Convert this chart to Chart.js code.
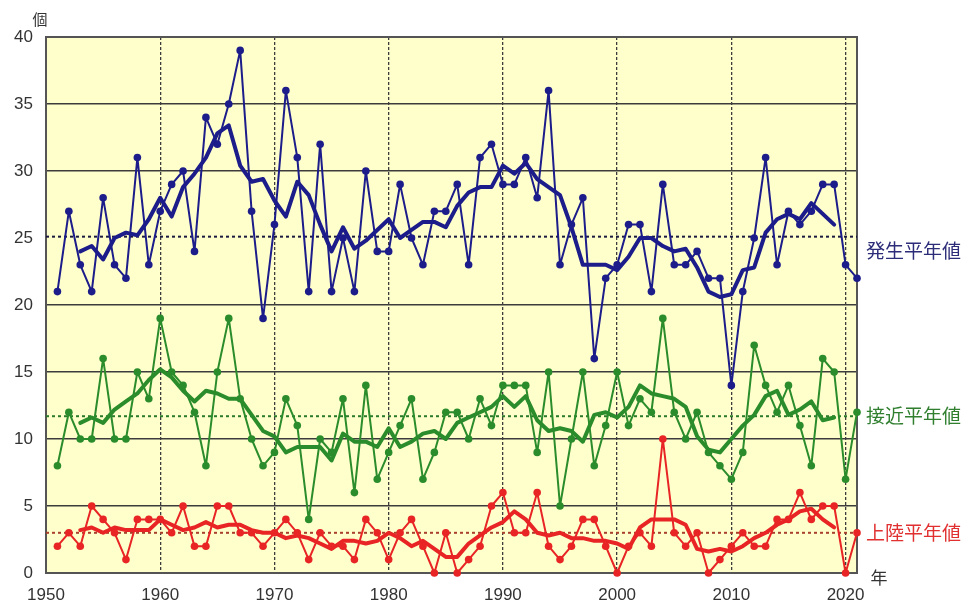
<!DOCTYPE html>
<html>
<head>
<meta charset="utf-8">
<script src="https://cdn.jsdelivr.net/npm/chart.js@4.4.0/dist/chart.umd.min.js"></script>
<style>
  html, body { margin: 0; background: #fff; }
</style>
</head>
<body>
<canvas id="typhoon-chart" width="970" height="600"></canvas>
<script>
// ── data (typhoon counts per year) ──────────────────────────────────────────
const YEARS = [
  1951, 1952, 1953, 1954, 1955, 1956, 1957, 1958, 1959, 1960,
  1961, 1962, 1963, 1964, 1965, 1966, 1967, 1968, 1969, 1970,
  1971, 1972, 1973, 1974, 1975, 1976, 1977, 1978, 1979, 1980,
  1981, 1982, 1983, 1984, 1985, 1986, 1987, 1988, 1989, 1990,
  1991, 1992, 1993, 1994, 1995, 1996, 1997, 1998, 1999, 2000,
  2001, 2002, 2003, 2004, 2005, 2006, 2007, 2008, 2009, 2010,
  2011, 2012, 2013, 2014, 2015, 2016, 2017, 2018, 2019, 2020,
  2021,
];

const GENESIS = [
  21, 27, 23, 21, 28, 23, 22, 31, 23, 27,
  29, 30, 24, 34, 32, 35, 39, 27, 19, 26,
  36, 31, 21, 32, 21, 25, 21, 30, 24, 24,
  29, 25, 23, 27, 27, 29, 23, 31, 32, 29,
  29, 31, 28, 36, 23, 26, 28, 16, 22, 23,
  26, 26, 21, 29, 23, 23, 24, 22, 22, 14,
  21, 25, 31, 23, 27, 26, 27, 29, 29, 23,
  22,
];

const APPROACH = [
  8, 12, 10, 10, 16, 10, 10, 15, 13, 19,
  15, 14, 12, 8, 15, 19, 13, 10, 8, 9,
  13, 11, 4, 10, 9, 13, 6, 14, 7, 9,
  11, 13, 7, 9, 12, 12, 10, 13, 11, 14,
  14, 14, 9, 15, 5, 10, 15, 8, 11, 15,
  11, 13, 12, 19, 12, 10, 12, 9, 8, 7,
  9, 17, 14, 12, 14, 11, 8, 16, 15, 7,
  12,
];

const LANDFALL = [
  2, 3, 2, 5, 4, 3, 1, 4, 4, 4,
  3, 5, 2, 2, 5, 5, 3, 3, 2, 3,
  4, 3, 1, 3, 2, 2, 1, 4, 3, 1,
  3, 4, 2, 0, 3, 0, 1, 2, 5, 6,
  3, 3, 6, 2, 1, 2, 4, 4, 2, 0,
  2, 3, 2, 10, 3, 2, 3, 0, 1, 2,
  3, 2, 2, 4, 4, 6, 4, 5, 5, 0,
  3,
];

// 5-year running means, 1953–2019
const MEAN_YEARS = YEARS.slice(2, 69);

const GENESIS_MEAN = [
  24.0, 24.4, 23.4, 25.0, 25.4, 25.2, 26.4, 28.0, 26.6, 28.8,
  29.8, 31.0, 32.8, 33.4, 30.4, 29.2, 29.4, 27.8, 26.6, 29.2,
  28.2, 26.0, 24.0, 25.8, 24.2, 24.8, 25.6, 26.4, 25.0, 25.6,
  26.2, 26.2, 25.8, 27.4, 28.4, 28.8, 28.8, 30.4, 29.8, 30.6,
  29.4, 28.8, 28.2, 25.8, 23.0, 23.0, 23.0, 22.6, 23.6, 25.0,
  25.0, 24.4, 24.0, 24.2, 22.8, 21.0, 20.6, 20.8, 22.6, 22.8,
  25.4, 26.4, 26.8, 26.4, 27.6, 26.8, 26.0,
];

const APPROACH_MEAN = [
  11.2, 11.6, 11.2, 12.2, 12.8, 13.4, 14.4, 15.2, 14.6, 13.6,
  12.8, 13.6, 13.4, 13.0, 13.0, 11.8, 10.6, 10.2, 9.0, 9.4,
  9.4, 9.4, 8.4, 10.4, 9.8, 9.8, 9.4, 10.8, 9.4, 9.8,
  10.4, 10.6, 10.0, 11.2, 11.6, 12.0, 12.4, 13.2, 12.4, 13.2,
  11.4, 10.6, 10.8, 10.6, 9.8, 11.8, 12.0, 11.6, 12.4, 14.0,
  13.4, 13.2, 13.0, 12.4, 10.2, 9.2, 9.0, 10.0, 11.0, 11.8,
  13.2, 13.6, 11.8, 12.2, 12.8, 11.4, 11.6,
];

const LANDFALL_MEAN = [
  3.2, 3.4, 3.0, 3.4, 3.2, 3.2, 3.2, 4.0, 3.6, 3.2,
  3.4, 3.8, 3.4, 3.6, 3.6, 3.2, 3.0, 3.0, 2.6, 2.8,
  2.6, 2.2, 1.8, 2.4, 2.4, 2.2, 2.4, 3.0, 2.6, 2.0,
  2.4, 1.8, 1.2, 1.2, 2.2, 2.8, 3.4, 3.8, 4.6, 4.0,
  3.0, 2.8, 3.0, 2.6, 2.6, 2.4, 2.4, 2.2, 1.8, 3.4,
  4.0, 4.0, 4.0, 3.6, 1.8, 1.6, 1.8, 1.6, 2.0, 2.6,
  3.0, 3.6, 4.0, 4.6, 4.8, 4.0, 3.4,
];

// normals (平年値)
const GENESIS_NORMAL = 25.1;
const APPROACH_NORMAL = 11.7;
const LANDFALL_NORMAL = 3.0;
const NORMAL_LABELS = ["発生平年値", "接近平年値", "上陸平年値"];

const X_TICKS = [1950, 1960, 1970, 1980, 1990, 2000, 2010, 2020];
const X_MIN = 1950;
const X_MAX = 2021;
const Y_MAX = 40;

const COLOURS = {
  genesis:   "#1c1c8a",
  approach:  "#2b8c2b",
  landfall:  "#e82424",
  genNorm:   "#1a1a40",
  appNorm:   "#2a7a2a",
  landNorm:  "#a8402c",
  genText:   "#2c2c78",
  appText:   "#2f7f2f",
  landText:  "#e03030",
  grid:      "#3c3c3c",
  plotBg:    "#ffffcc",
  tick:      "#333333",
};

const TICK_FONT = { family: "'Liberation Sans', Arial, sans-serif", size: 17 };
const CJK_FONT = "'Noto Sans CJK JP', 'Noto Sans', sans-serif";

function toPoints(xs, ys) {
  return ys.map((v, i) => ({ x: xs[i], y: v }));
}

function yearSeries(data, colour) {
  return {
    data: toPoints(YEARS, data),
    borderColor: colour,
    backgroundColor: colour,
    borderWidth: 2,
    borderJoinStyle: "round",
    pointRadius: 3.8,
    pointBorderWidth: 0,
    tension: 0,
    clip: false,
  };
}

function meanSeries(data, colour) {
  return {
    data: toPoints(MEAN_YEARS, data),
    borderColor: colour,
    borderWidth: 4,
    borderJoinStyle: "round",
    borderCapStyle: "round",
    pointRadius: 0,
    tension: 0,
    clip: false,
  };
}

function normalLine(value, colour) {
  return {
    data: [{ x: X_MIN, y: value }, { x: X_MAX, y: value }],
    borderColor: colour,
    borderWidth: 2,
    borderDash: [3, 3],
    pointRadius: 0,
  };
}

// ── plot background, frame and side labels ──────────────────────────────────
const framePlugin = {
  id: "frame",
  beforeDraw(chart) {
    const { ctx, chartArea: a } = chart;
    ctx.save();
    ctx.fillStyle = COLOURS.plotBg;
    ctx.fillRect(a.left, a.top, a.right - a.left, a.bottom - a.top);
    ctx.restore();
  },
  beforeDatasetsDraw(chart) {
    const { ctx, chartArea: a } = chart;
    ctx.save();
    ctx.strokeStyle = "#555555";
    ctx.lineWidth = 2;
    ctx.strokeRect(a.left, a.top, a.right - a.left, a.bottom - a.top);
    ctx.restore();
  },
  afterDraw(chart) {
    const { ctx, chartArea: a, scales } = chart;
    const y = scales.y;
    ctx.save();
    ctx.textBaseline = "middle";
    ctx.textAlign = "left";
    ctx.font = `19px ${CJK_FONT}`;
    ctx.fillStyle = COLOURS.genText;
    ctx.fillText(NORMAL_LABELS[0], a.right + 9, y.getPixelForValue(GENESIS_NORMAL) + 14);
    ctx.fillStyle = COLOURS.appText;
    ctx.fillText(NORMAL_LABELS[1], a.right + 9, y.getPixelForValue(APPROACH_NORMAL));
    ctx.fillStyle = COLOURS.landText;
    ctx.fillText(NORMAL_LABELS[2], a.right + 9, y.getPixelForValue(LANDFALL_NORMAL));

    ctx.fillStyle = "#333333";
    ctx.font = `15px ${CJK_FONT}`;
    ctx.textAlign = "center";
    ctx.fillText("個", 40, 19);
    ctx.font = `17px ${CJK_FONT}`;
    ctx.fillText("年", a.right + 22, a.bottom + 5);
    ctx.restore();
  },
};

const ctx = document.getElementById("typhoon-chart").getContext("2d");

new Chart(ctx, {
  type: "line",
  data: {
    datasets: [
      yearSeries(GENESIS, COLOURS.genesis),
      meanSeries(GENESIS_MEAN, COLOURS.genesis),
      yearSeries(APPROACH, COLOURS.approach),
      meanSeries(APPROACH_MEAN, COLOURS.approach),
      yearSeries(LANDFALL, COLOURS.landfall),
      meanSeries(LANDFALL_MEAN, COLOURS.landfall),
      normalLine(GENESIS_NORMAL, COLOURS.genNorm),
      normalLine(APPROACH_NORMAL, COLOURS.appNorm),
      normalLine(LANDFALL_NORMAL, COLOURS.landNorm),
    ],
  },
  options: {
    responsive: false,
    animation: false,
    layout: { padding: { top: 37, right: 113, left: 0, bottom: 0 } },
    plugins: {
      legend: { display: false },
      tooltip: { enabled: false },
    },
    scales: {
      x: {
        type: "linear",
        min: X_MIN,
        max: X_MAX,
        afterBuildTicks: (scale) => {
          scale.ticks = X_TICKS.map((v) => ({ value: v }));
        },
        afterFit: (scale) => { scale.height = 27; },
        ticks: {
          padding: 12,
          color: COLOURS.tick,
          font: TICK_FONT,
          maxRotation: 0,
          autoSkip: false,
          callback: (v) => String(v),
        },
        grid: {
          drawTicks: false,
          color: (c) => (c.tick && c.tick.value === X_MIN ? "transparent" : COLOURS.grid),
          lineWidth: 1.3,
        },
        border: { display: false, dash: [3, 2] },
      },
      y: {
        min: 0,
        max: Y_MAX,
        afterFit: (scale) => { scale.width = 46; },
        ticks: {
          stepSize: 5,
          padding: 13,
          color: COLOURS.tick,
          font: TICK_FONT,
        },
        grid: {
          drawTicks: false,
          color: (c) => {
            const v = c.tick ? c.tick.value : null;
            return v === 0 || v === Y_MAX || v === 25 ? "transparent" : COLOURS.grid;
          },
          lineWidth: 1.6,
        },
        border: { display: false },
      },
    },
  },
  plugins: [framePlugin],
});
</script>
</body>
</html>
